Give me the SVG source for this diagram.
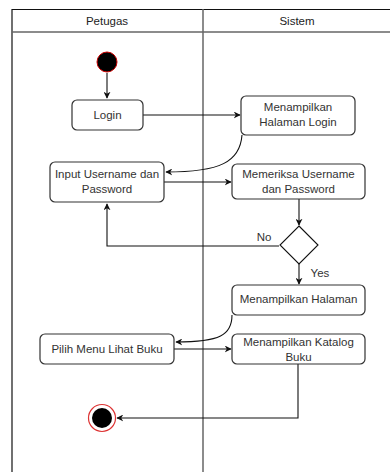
<svg xmlns="http://www.w3.org/2000/svg" width="390" height="472" viewBox="0 0 390 472">
<defs>
<style>
.box{fill:#fff;stroke:#333;stroke-width:1.2}
.t{font-family:"Liberation Sans",Arial,sans-serif;font-size:11.5px;fill:#333;text-anchor:middle}
.h{font-family:"Liberation Sans",Arial,sans-serif;font-size:11.5px;fill:#222;text-anchor:middle}
.c{fill:none;stroke:#111;stroke-width:1.1}
</style>
<marker id="a" viewBox="0 0 10 10" refX="9" refY="5" markerWidth="7" markerHeight="7" orient="auto-start-reverse" markerUnits="userSpaceOnUse">
<path d="M0,0 L10,5 L0,10 L3,5 Z" fill="#111"/>
</marker>
</defs>
<rect width="390" height="472" fill="#fff"/>
<g id="lanes">
<line x1="12" y1="9.5" x2="390" y2="9.5" stroke="#111" stroke-width="1.2"/>
<line x1="12" y1="9" x2="12" y2="472" stroke="#111" stroke-width="1.2"/>
<line x1="12" y1="32" x2="390" y2="32" stroke="#666" stroke-width="1.5"/>
<line x1="203" y1="9" x2="203" y2="472" stroke="#666" stroke-width="1.5"/>
<text class="h" x="107" y="25">Petugas</text>
<text class="h" x="297" y="25">Sistem</text>
</g>
<g id="connectors">
<path class="c" d="M107 73 V98" marker-end="url(#a)"/>
<path class="c" d="M143 115 H240" marker-end="url(#a)"/>
<path class="c" d="M242 135 C240 162 220 172 166 172" marker-end="url(#a)"/>
<path class="c" d="M164 182 H231" marker-end="url(#a)"/>
<path class="c" d="M299 199 V225" marker-end="url(#a)"/>
<path class="c" d="M279 246 H107 V204" marker-end="url(#a)"/>
<path class="c" d="M299 264 V284" marker-end="url(#a)"/>
<path class="c" d="M232 315 C232 335 220 342 176 342" marker-end="url(#a)"/>
<path class="c" d="M174 349 H231" marker-end="url(#a)"/>
<path class="c" d="M298 364 V418 H117" marker-end="url(#a)"/>
<text class="t" x="264" y="241">No</text>
<text class="t" x="320" y="277">Yes</text>
</g>
<g id="start"><circle cx="107" cy="62" r="10" fill="#000" stroke="#c00" stroke-width="1"/></g>
<g id="login"><rect class="box" x="72" y="100" width="71" height="30" rx="5"/><text class="t" x="107.5" y="119">Login</text></g>
<g id="tampilLogin"><rect class="box" x="241" y="96" width="114" height="39" rx="5"/><text class="t" x="298" y="111">Menampilkan</text><text class="t" x="298" y="126">Halaman Login</text></g>
<g id="input"><rect class="box" x="50" y="162" width="114" height="40" rx="5"/><text class="t" x="107" y="178">Input Username dan</text><text class="t" x="107" y="193">Password</text></g>
<g id="periksa"><rect class="box" x="232" y="164" width="133" height="35" rx="5"/><text class="t" x="298.5" y="178">Memeriksa Username</text><text class="t" x="298.5" y="193">dan Password</text></g>
<g id="decision"><path d="M299 226 L318 245 L299 264 L280 245 Z" fill="#fff" stroke="#111" stroke-width="1.1"/></g>
<g id="tampilHalaman"><rect class="box" x="232" y="285" width="133" height="30" rx="5"/><text class="t" x="298.5" y="303">Menampilkan Halaman</text></g>
<g id="pilih"><rect class="box" x="40" y="334" width="134" height="30" rx="5"/><text class="t" x="107" y="353">Pilih Menu Lihat Buku</text></g>
<g id="katalog"><rect class="box" x="232" y="334" width="133" height="30" rx="5"/><text class="t" x="298.5" y="346">Menampilkan Katalog</text><text class="t" x="298.5" y="361">Buku</text></g>
<g id="end"><circle cx="102" cy="418" r="13.5" fill="#fff" stroke="#d33" stroke-width="1.2"/><circle cx="102" cy="418" r="10" fill="#000"/></g>
</svg>
